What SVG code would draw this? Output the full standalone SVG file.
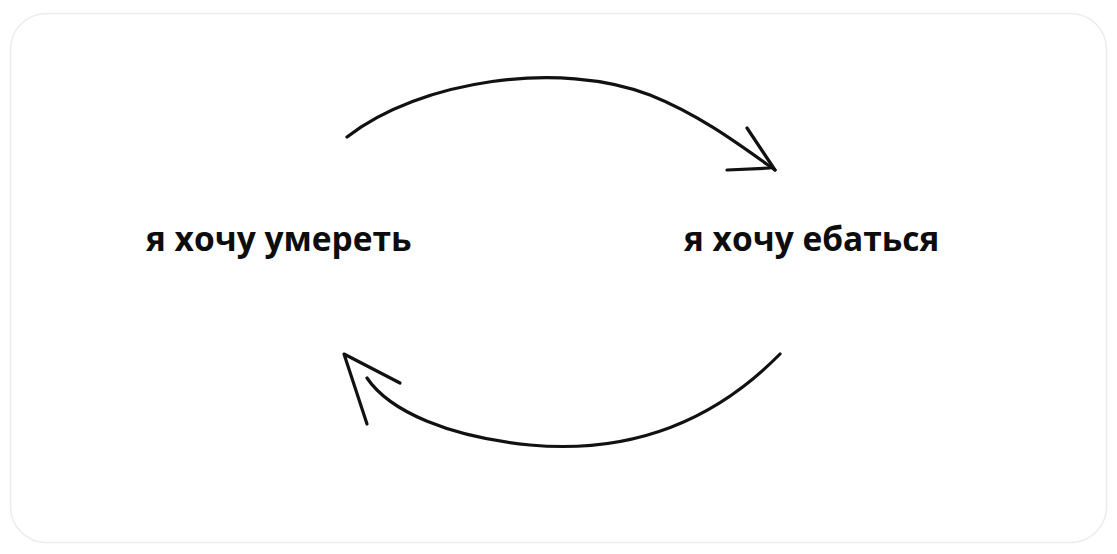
<svg xmlns="http://www.w3.org/2000/svg" width="1117" height="554" viewBox="0 0 1117 554">
<style>
.lbl{font-family:"Open Sans","Liberation Sans",sans-serif;font-weight:bold;font-size:33.5px;fill:#0d0d0d}
.ln{fill:none;stroke:#111;stroke-width:3.2;stroke-linecap:round;stroke-linejoin:round}
</style>
<rect x="0" y="0" width="1117" height="554" fill="#fff"/>
<rect x="10.5" y="13.5" width="1096" height="529" rx="36" fill="#fff" stroke="#ececec" stroke-width="1.5"/>
<g id="node-left"><text class="lbl" x="146" y="251">я хочу умереть</text></g>
<g id="node-right"><text class="lbl" x="684" y="251">я хочу ебаться</text></g>
<g id="connectors">
<path class="ln" d="M347,137 C420,80 560,60 650,95 C700,115 740,145 775,170"/>
<path class="ln" d="M747,128 L775,170"/>
<path class="ln" d="M727,170 L770,168" stroke-width="5"/>
<path class="ln" d="M780,354 C720,415 640,455 530,445 C450,437 390,412 367,378"/>
<path class="ln" d="M367,424 L344,354 L400,383"/>
</g>
</svg>
